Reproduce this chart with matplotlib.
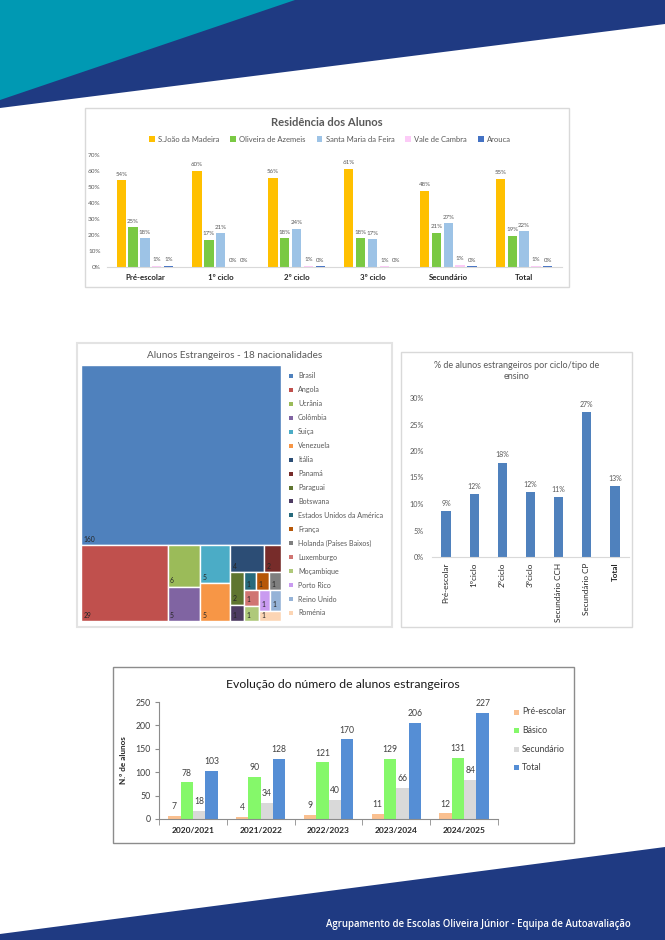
import matplotlib
matplotlib.use('Agg')
import matplotlib.pyplot as plt
from matplotlib.patches import Polygon, Rectangle
import numpy as np

plt.rcParams['font.family'] = ['Lato', 'DejaVu Sans']

# ---------------- DATA ----------------
# Chart 1: Residência dos Alunos (%)
res_cats = ['Pré-escolar', '1º ciclo', '2º ciclo', '3º ciclo', 'Secundário', 'Total']
res_names = ['S.João da Madeira', 'Oliveira de Azemeis', 'Santa Maria da Feira',
             'Vale de Cambra', 'Arouca']
res_sjm = [54.2, 60.1, 55.9, 61.4, 47.6, 55.3]
res_oaz = [25.0, 17.0, 17.9, 17.9, 21.4, 19.4]
res_smf = [17.9, 21.0, 23.9, 17.2, 27.4, 22.3]
res_vdc = [0.8, 0.1, 0.8, 0.6, 1.4, 0.8]
res_aro = [0.8, 0.1, 0.4, 0.3, 0.4, 0.4]

# Chart 2: treemap nationalities
nat_names = ['Brasil', 'Angola', 'Ucrânia', 'Colômbia', 'Suiça', 'Venezuela', 'Itália',
             'Panamá', 'Paraguai', 'Botswana', 'Estados Unidos da América', 'França',
             'Holanda (Países Baixos)', 'Luxemburgo', 'Moçambique', 'Porto Rico',
             'Reino Unido', 'Roménia']
nat_values = [160, 29, 6, 5, 5, 5, 4, 2, 2, 1, 1, 1, 1, 1, 1, 1, 1, 1]

# Chart 3: % de alunos estrangeiros por ciclo
pct_cats = ['Pré-escolar', '1ºciclo', '2ºciclo', '3ºciclo', 'Secundário CCH',
            'Secundário CP', 'Total']
pct_values = [8.7, 11.9, 17.8, 12.2, 11.3, 27.4, 13.4]

# Chart 4: Evolução do número de alunos estrangeiros
evo_years = ['2020/2021', '2021/2022', '2022/2023', '2023/2024', '2024/2025']
evo_names = ['Pré-escolar', 'Básico', 'Secundário', 'Total']
evo_pre = [7, 4, 9, 11, 12]
evo_bas = [78, 90, 121, 129, 131]
evo_sec = [18, 34, 40, 66, 84]
evo_tot = [103, 128, 170, 206, 227]

# ---------------- STYLE ----------------
NAVY = '#1F3A82'
TEAL = '#0099B3'
GRAY_T = '#595959'
res_colors = ['#FFC000', '#7AC943', '#9DC3E6', '#FCCBF7', '#4472C4']
nat_colors = ['#4F81BD', '#C0504D', '#9BBB59', '#8064A2', '#4BACC6', '#F79646',
              '#2C4D75', '#772C2A', '#5F7530', '#4D3B62', '#276A7C', '#B65708',
              '#7F7F7F', '#D07572', '#AFC97A', '#C99BF0', '#95B3D7', '#FCD5B4']
pct_color = '#4F81BD'
evo_colors = ['#FAC090', '#85F86A', '#D9D9D9', '#558ED5']

FW, FH = 665, 940
fig = plt.figure(figsize=(FW / 100, FH / 100), dpi=100)


def pt(x, y):
    return (x / FW, 1 - y / FH)


def rect(x0, y0, x1, y1):
    return [x0 / FW, 1 - y1 / FH, (x1 - x0) / FW, (y1 - y0) / FH]


def fig_poly(points, color):
    fig.patches.append(Polygon([pt(*p) for p in points], closed=True,
                               transform=fig.transFigure, facecolor=color,
                               edgecolor='none', zorder=-10))


def fig_box(x0, y0, x1, y1, ec, lw=1.0):
    fig.patches.append(Rectangle(pt(x0, y1), (x1 - x0) / FW, (y1 - y0) / FH,
                                 transform=fig.transFigure, facecolor='white',
                                 edgecolor=ec, lw=lw, zorder=-5))


# page decoration
fig_poly([(0, 0), (665, 0), (665, 24), (0, 108)], NAVY)
fig_poly([(0, 0), (295, 0), (0, 100)], TEAL)
fig_poly([(665, 847), (665, 940), (0, 940), (0, 934)], NAVY)
fig.text(*pt(478, 924), 'Agrupamento de Escolas Oliveira Júnior - Equipa de Autoavaliação',
         color='white', fontsize=6.9, fontweight='semibold', family=['Open Sans', 'DejaVu Sans'],
         ha='center', va='center')

# ---------------- CHART 1 ----------------
fig_box(85, 108, 569, 287, '#D9D9D9')
ax1 = fig.add_axes(rect(107, 155, 562, 267))
ax1.set_facecolor('none')
x = np.arange(len(res_cats))
series = [res_sjm, res_oaz, res_smf, res_vdc, res_aro]
bw = 0.123
for k, (vals, c, n) in enumerate(zip(series, res_colors, res_names)):
    bars = ax1.bar(x + (k - 2) * 0.156, np.array(vals) / 100, bw, color=c, label=n)
    ax1.bar_label(bars, labels=[f'{v:.0f}%' for v in vals], padding=2.5,
                  fontsize=4.4, color=GRAY_T)
ax1.set_xlim(-0.5, len(res_cats) - 0.5)
ax1.set_ylim(0, 0.7)
ax1.set_yticks(np.arange(0, 0.71, 0.1))
ax1.set_yticklabels([f'{v:.0f}%' for v in np.arange(0, 71, 10)])
ax1.set_xticks(x)
ax1.set_xticklabels(res_cats, fontweight='bold')
ax1.tick_params(axis='y', length=0, labelsize=4.6, labelcolor=GRAY_T, pad=4.5)
ax1.tick_params(axis='x', length=0, labelsize=5.7, labelcolor='#262626', pad=5)
for s in ['top', 'right', 'left']:
    ax1.spines[s].set_visible(False)
ax1.spines['bottom'].set_color('#D9D9D9')
fig.text(*pt(327, 122), 'Residência dos Alunos', fontsize=8.1, fontweight='bold',
         color=GRAY_T, ha='center', va='center')
h1, l1 = ax1.get_legend_handles_labels()
fig.legend(h1, l1, loc='center', bbox_to_anchor=pt(330, 139), ncol=5, fontsize=5.5,
           frameon=False, handlelength=0.75, handleheight=0.75, columnspacing=1.45,
           handletextpad=0.4, labelcolor=GRAY_T)

# ---------------- CHART 2 (treemap) ----------------
fig_box(77, 343, 392, 627, '#E3E3E3', lw=1.5)
ax2 = fig.add_axes(rect(81, 365, 281, 621))
ax2.set_facecolor('none')
TW, TH = ax2.bbox.width, ax2.bbox.height


def squarify(values, x0, y0, w, h):
    total = float(sum(values))
    areas = [v * w * h / total for v in values]
    out = []
    i = 0
    while i < len(areas):
        vertical = w >= h
        side = h if vertical else w

        def last_aspect(row):
            thick = sum(row) / side
            length = row[-1] / thick
            return max(thick / length, length / thick)

        row = [areas[i]]
        j = i + 1
        while j < len(areas):
            cand = row + [areas[j]]
            if last_aspect(cand) <= last_aspect(row):
                row = cand
                j += 1
            else:
                break
        thick = sum(row) / side
        pos = 0.0
        for a in row:
            length = a / thick
            if vertical:
                out.append((x0, y0 + pos, thick, length))
            else:
                out.append((x0 + pos, y0, length, thick))
            pos += length
        if vertical:
            x0 += thick
            w -= thick
        else:
            y0 += thick
            h -= thick
        i = j
    return out


cells = squarify(nat_values, 0, 0, TW, TH)
for (cx, cy, cw, ch), v, c in zip(cells, nat_values, nat_colors):
    ax2.add_patch(Rectangle((cx, cy), cw, ch, facecolor=c, edgecolor='white', lw=1.0))
    ax2.text(cx + 2.5, cy + ch - 2.5, str(v), fontsize=4.9, color='#262626',
             ha='left', va='bottom')
ax2.set_xlim(0, TW)
ax2.set_ylim(TH, 0)
ax2.axis('off')
fig.text(*pt(235, 355), 'Alunos Estrangeiros - 18 nacionalidades', fontsize=7.2,
         color=GRAY_T, ha='center', va='center')
for i, (n, c) in enumerate(zip(nat_names, nat_colors)):
    yy = 376 + i * 13.94
    fig.patches.append(Rectangle(pt(289, yy + 2), 4 / FW, 4 / FH, transform=fig.transFigure,
                                 facecolor=c, edgecolor='none'))
    fig.text(*pt(298, yy), n, fontsize=5.1, color=GRAY_T, ha='left', va='center')

# ---------------- CHART 3 ----------------
fig_box(401, 352, 632, 627, '#D9D9D9')
ax3 = fig.add_axes(rect(432, 398, 629, 557))
ax3.set_facecolor('none')
x3 = np.arange(len(pct_cats))
b3 = ax3.bar(x3, np.array(pct_values) / 100, 0.33, color=pct_color)
ax3.bar_label(b3, labels=[f'{v:.0f}%' for v in pct_values], padding=3,
              fontsize=5, color=GRAY_T)
ax3.set_xlim(-0.5, len(pct_cats) - 0.5)
ax3.set_ylim(0, 0.30)
ax3.set_yticks(np.arange(0, 0.301, 0.05))
ax3.set_yticklabels([f'{v:.0f}%' for v in np.arange(0, 31, 5)])
ax3.set_xticks(x3)
ax3.set_xticklabels(pct_cats, rotation=90)
ax3.get_xticklabels()[-1].set_fontweight('bold')
ax3.tick_params(axis='y', length=0, labelsize=5.2, labelcolor=GRAY_T, pad=6)
ax3.tick_params(axis='x', length=0, labelsize=5.9, labelcolor='#262626', pad=4)
for s in ['top', 'right', 'left']:
    ax3.spines[s].set_visible(False)
ax3.spines['bottom'].set_color('#D9D9D9')
fig.text(*pt(517, 371), '% de alunos estrangeiros por ciclo/tipo de\nensino', fontsize=6.5,
         color=GRAY_T, ha='center', va='center', linespacing=1.35)

# ---------------- CHART 4 ----------------
fig_box(113, 667, 574, 843, '#8C8C8C')
ax4 = fig.add_axes(rect(159, 702, 498, 819))
ax4.set_facecolor('none')
x4 = np.arange(len(evo_years))
bw4 = 0.182
for k, (vals, c, n) in enumerate(zip([evo_pre, evo_bas, evo_sec, evo_tot], evo_colors, evo_names)):
    bb = ax4.bar(x4 + (k - 1.5) * bw4, vals, bw4, color=c, label=n)
    ax4.bar_label(bb, padding=3.5, fontsize=6.2, color='#404040')
ax4.set_xlim(-0.5, len(evo_years) - 0.5)
ax4.set_ylim(0, 250)
ax4.set_yticks(np.arange(0, 251, 50))
ax4.set_xticks(x4)
ax4.set_xticklabels(evo_years, fontweight='bold')
ax4.set_xticks(np.arange(-0.5, len(evo_years)), minor=True)
ax4.tick_params(axis='x', which='major', length=0, labelsize=6, labelcolor='#262626', pad=6)
ax4.tick_params(axis='x', which='minor', length=4, color='#8C8C8C', direction='out')
ax4.tick_params(axis='y', length=3, color='#8C8C8C', labelsize=6.3, labelcolor='#404040', pad=3)
for s in ['top', 'right']:
    ax4.spines[s].set_visible(False)
ax4.spines['bottom'].set_color('#8C8C8C')
ax4.spines['left'].set_color('#8C8C8C')
ax4.set_ylabel('N.º de alunos', fontsize=5.9, fontweight='bold', color='#262626', labelpad=6)
fig.text(*pt(343, 684), 'Evolução do número de alunos estrangeiros', fontsize=8.8,
         color='#1A1A1A', ha='center', va='center')
for i, (n, c) in enumerate(zip(evo_names, evo_colors)):
    yy = 712 + i * 18.6
    fig.patches.append(Rectangle(pt(514, yy + 2.5), 5 / FW, 5 / FH, transform=fig.transFigure,
                                 facecolor=c, edgecolor='none'))
    fig.text(*pt(522, yy), n, fontsize=6.3, color='#404040', ha='left', va='center')

fig.savefig('out.png', dpi=100)
